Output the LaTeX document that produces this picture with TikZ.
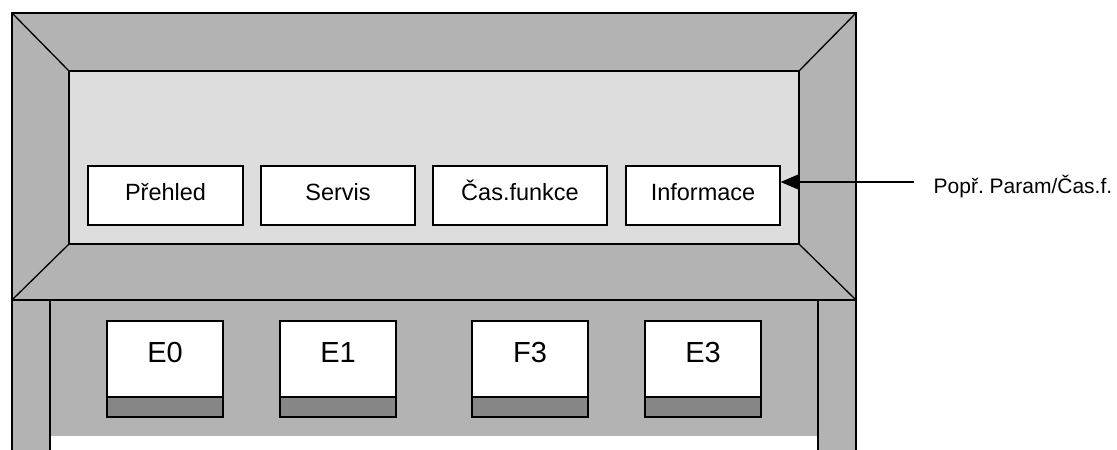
\documentclass[tikz,border=0pt]{standalone}
\usepackage{fontspec}
\setmainfont{Liberation Sans}
\usetikzlibrary{positioning,arrows.meta}
\definecolor{framegray}{RGB}{179,179,179}
\definecolor{screengray}{RGB}{221,221,221}
\definecolor{bargray}{RGB}{134,134,134}
\tikzset{menu/.style={rectangle,draw,fill=white,line width=1.3pt,inner sep=0pt,minimum height=59pt,text height=34pt,text depth=25pt,font=\fontsize{23.5}{28}\selectfont},
keytop/.style={rectangle,draw,fill=white,line width=1.3pt,inner sep=0pt,outer sep=0pt,minimum width=116pt,minimum height=76pt,text height=41pt,text depth=35pt,font=\fontsize{29}{34}\selectfont},
keybar/.style={rectangle,draw,fill=bargray,line width=1.3pt,inner sep=0pt,outer sep=0pt,minimum width=116pt,minimum height=20pt}}

\begin{document}
\begin{tikzpicture}[x=1pt,y=-1pt,line width=1.3pt]
    \useasboundingbox (0,0) rectangle (1117,450);
    \clip (0,0) rectangle (1117,450);

    \fill[framegray] (50,300) rectangle (818,436);
    \draw[fill=framegray] (12,300) rectangle (50,460);
    \draw[fill=framegray] (818,300) rectangle (856,460);

    \draw[fill=framegray] (12,13) rectangle (856,300);
    \draw[fill=screengray] (69,71) rectangle (799,244);
    \draw (12,13) -- (69,71);
    \draw (856,13) -- (799,71);
    \draw (12,300) -- (69,244);
    \draw (856,300) -- (799,244);

    \node[menu,minimum width=155pt] (preh) at (165.5,195.5) {Přehled};
    \node[menu,minimum width=154pt] (serv) at (338,195.5) {Servis};
    \node[menu,minimum width=174pt] (casf) at (520,195.5) {Čas.funkce};
    \node[menu,minimum width=154pt] (info) at (703,195.5) {Informace};

    \coordinate (tip) at (914,182);
    \node[anchor=base west,inner sep=0pt,font=\fontsize{21}{25}\selectfont] (popr) at (933,193.5) {Popř.\ Param/Čas.f.};
    \draw[-{Triangle[length=19pt,width=16pt]}] (tip) -- (tip -| info.east);

    \node[keytop] (e0) at (165,359) {E0};
    \node[keytop] (e1) at (338,359) {E1};
    \node[keytop] (f3) at (530,359) {F3};
    \node[keytop] (e3) at (703,359) {E3};
    \node[keybar,below=0pt of e0] (e0b) {};
    \node[keybar,below=0pt of e1] (e1b) {};
    \node[keybar,below=0pt of f3] (f3b) {};
    \node[keybar,below=0pt of e3] (e3b) {};
\end{tikzpicture}
\end{document}
